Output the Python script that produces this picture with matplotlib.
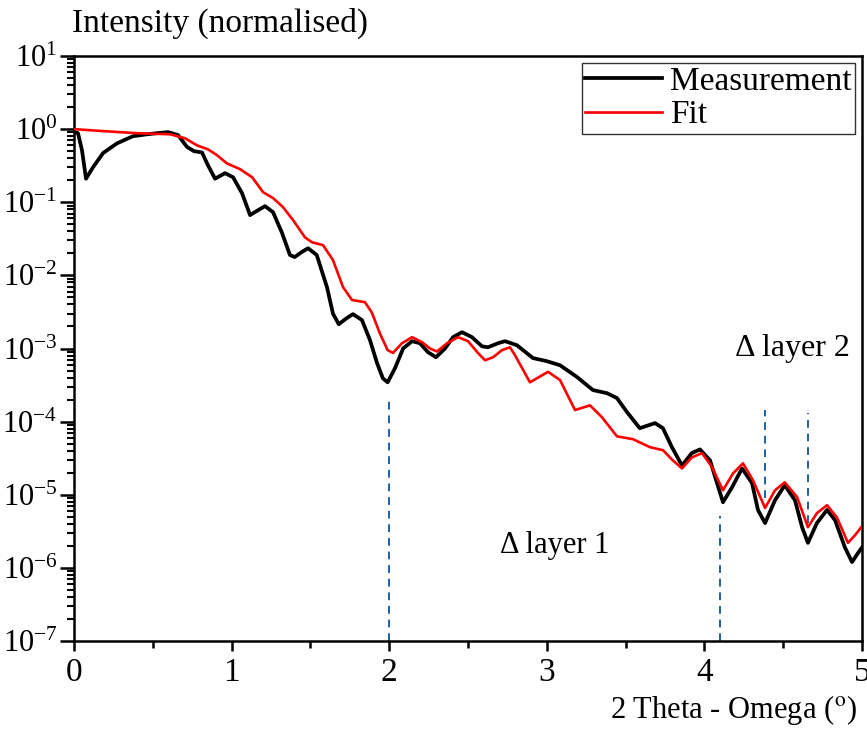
import matplotlib
matplotlib.use("Agg")
import matplotlib.pyplot as plt
import matplotlib.ticker as mticker
import numpy as np

plt.rcParams["font.family"] = ["Liberation Serif", "DejaVu Serif"]
plt.rcParams["mathtext.fontset"] = "stix"

meas_x = [0.0, 0.025, 0.05, 0.076, 0.12, 0.184, 0.273, 0.374, 0.463, 0.527, 0.596,
          0.66, 0.717, 0.761, 0.812, 0.85, 0.895, 0.958, 1.009, 1.066, 1.117,
          1.168, 1.212, 1.263, 1.32, 1.37, 1.40, 1.447, 1.485, 1.54, 1.605,
          1.643, 1.68, 1.73, 1.77, 1.827, 1.878, 1.923, 1.96, 1.99, 2.037,
          2.088, 2.145, 2.195, 2.246, 2.297, 2.354, 2.405, 2.462, 2.525, 2.589,
          2.627, 2.69, 2.735, 2.81, 2.912, 3.001, 3.084, 3.19, 3.293, 3.382,
          3.445, 3.509, 3.59, 3.687, 3.737, 3.794, 3.858, 3.92, 3.972, 4.036,
          4.08, 4.118, 4.175, 4.239, 4.302, 4.34, 4.385, 4.448, 4.51, 4.575,
          4.62, 4.657, 4.714, 4.778, 4.829, 4.892, 4.937, 4.975, 5.0]
meas_y = [0.92, 0.88, 0.52, 0.21, 0.30, 0.47, 0.64, 0.80, 0.85, 0.88, 0.91,
          0.83, 0.57, 0.50, 0.48, 0.32, 0.21, 0.25, 0.22, 0.133, 0.0667,
          0.078, 0.0885, 0.073, 0.038, 0.019, 0.0178, 0.021, 0.0235, 0.019, 0.0069,
          3.0e-3, 2.15e-3, 2.6e-3, 2.95e-3, 2.45e-3, 1.3e-3, 6.3e-4, 3.9e-4, 3.45e-4, 5.4e-4,
          1.0e-3, 1.26e-3, 1.18e-3, 8.9e-4, 7.6e-4, 1.0e-3, 1.43e-3, 1.67e-3, 1.43e-3, 1.07e-3,
          1.04e-3, 1.18e-3, 1.26e-3, 1.11e-3, 7.4e-4, 6.7e-4, 5.9e-4, 4.1e-4, 2.7e-4, 2.45e-4,
          2.1e-4, 1.35e-4, 8.13e-5, 9.55e-5, 8.13e-5, 4.47e-5, 2.51e-5, 3.71e-5, 4.17e-5, 2.95e-5,
          1.45e-5, 7.9e-6, 1.26e-5, 2.29e-5, 1.45e-5, 6.2e-6, 4.1e-6, 8.4e-6, 1.35e-5, 8.4e-6,
          3.6e-6, 2.2e-6, 4.1e-6, 6.2e-6, 4.5e-6, 1.9e-6, 1.2e-6, 1.6e-6, 1.9e-6]

# Fit (red)
fit_x = [0.0, 0.184, 0.40, 0.61, 0.704, 0.78, 0.85, 0.907, 0.97, 1.053, 1.13,
         1.20, 1.263, 1.326, 1.39, 1.434, 1.466, 1.51, 1.58, 1.643, 1.707,
         1.764, 1.846, 1.89, 1.94, 1.99, 2.024, 2.081, 2.145, 2.208, 2.259,
         2.303, 2.367, 2.437, 2.50, 2.563, 2.608, 2.659, 2.716, 2.766, 2.798,
         2.893, 3.008, 3.084, 3.179, 3.274, 3.35, 3.445, 3.547, 3.655, 3.737,
         3.80, 3.858, 3.92, 3.985, 4.048, 4.118, 4.181, 4.245, 4.308, 4.385,
         4.448, 4.51, 4.588, 4.657, 4.714, 4.778, 4.841, 4.911, 4.956, 5.0]
fit_y = [1.0, 0.94, 0.88, 0.85, 0.75, 0.60, 0.53, 0.44, 0.34, 0.284, 0.22,
         0.137, 0.114, 0.0857, 0.0569, 0.0415, 0.033, 0.0284, 0.0259, 0.0162, 0.0069,
         4.6e-3, 4.3e-3, 3.1e-3, 1.62e-3, 9.5e-4, 8.7e-4, 1.18e-3, 1.43e-3, 1.22e-3, 1.0e-3,
         9.1e-4, 1.18e-3, 1.43e-3, 1.26e-3, 8.7e-4, 6.9e-4, 7.6e-4, 9.5e-4, 1.04e-3, 8.1e-4,
         3.45e-4, 4.8e-4, 3.7e-4, 1.44e-4, 1.67e-4, 1.15e-4, 6.3e-5, 5.75e-5, 4.47e-5, 4.07e-5,
         2.95e-5, 2.29e-5, 3.24e-5, 3.71e-5, 2.4e-5, 1.15e-5, 1.95e-5, 2.69e-5, 1.58e-5, 6.6e-6,
         1.15e-5, 1.48e-5, 9.3e-6, 3.6e-6, 5.6e-6, 7.2e-6, 4.9e-6, 2.2e-6, 2.8e-6, 3.7e-6]

# Dashed markers: x position, top and bottom intensity
mark_x = [2.0, 4.10, 4.385, 4.657]
mark_top = [1.95e-4, 5.2e-6, 1.44e-4, 1.3e-4]
mark_bot = [1e-7, 1e-7, 9.0e-6, 4.1e-6]

fig = plt.figure(figsize=(8.67, 7.33), dpi=100)
ax = fig.add_axes([0.0854, 0.1255, 0.9088, 0.7981])

ax.plot(meas_x, meas_y, color="black", linewidth=2.7, label="Measurement", zorder=3,
        solid_joinstyle="round")
ax.plot(fit_x, fit_y, color="#ff0000", linewidth=1.9, label="Fit", zorder=4,
        solid_joinstyle="round")

for mx, top, bot in zip(mark_x, mark_top, mark_bot):
    ax.plot([mx, mx], [bot, top], color="#1f5fa5", linestyle=(0, (4, 3)),
            linewidth=1.4, zorder=2)

ax.text(3.05, 2.0e-6, "Δ layer 1", fontsize=22, ha="center", va="center")
ax.text(4.56, 1.0e-3, "Δ layer 2", fontsize=23, ha="center", va="center")

ax.set_yscale("log")
ax.set_xlim(0, 5)
ax.set_ylim(1e-7, 10)
ax.xaxis.set_major_locator(mticker.MultipleLocator(1))
ax.xaxis.set_minor_locator(mticker.MultipleLocator(0.5))
ax.yaxis.set_major_locator(mticker.LogLocator(base=10, numticks=20))
ax.yaxis.set_minor_locator(mticker.LogLocator(base=10, subs=np.arange(2, 10), numticks=20))
ax.yaxis.set_minor_formatter(mticker.NullFormatter())

ax.tick_params(axis="both", which="major", direction="out", width=1.8)
ax.tick_params(axis="x", which="major", length=7, pad=5, labelsize=24)
ax.tick_params(axis="x", which="minor", direction="out", length=5, width=1.8)
ax.tick_params(axis="y", which="major", length=10, pad=2, labelsize=22)
ax.tick_params(axis="y", which="minor", direction="out", length=5, width=1.5)
for spine in ax.spines.values():
    spine.set_linewidth(1.8)

leg = ax.legend(loc="upper right", fontsize=24, frameon=True, fancybox=False,
                edgecolor="black", handlelength=2.3, borderpad=0.1,
                labelspacing=0.1, handletextpad=0.25, borderaxespad=0.2)
leg.get_frame().set_linewidth(1.0)

fig.text(0.083, 0.968, "Intensity (normalised)", fontsize=24, ha="left", va="center")
fig.text(0.988, 0.032, r"2 Theta - Omega ($^\mathrm{o}$)", fontsize=22, ha="right", va="center")

fig.savefig("out.png", dpi=100)
